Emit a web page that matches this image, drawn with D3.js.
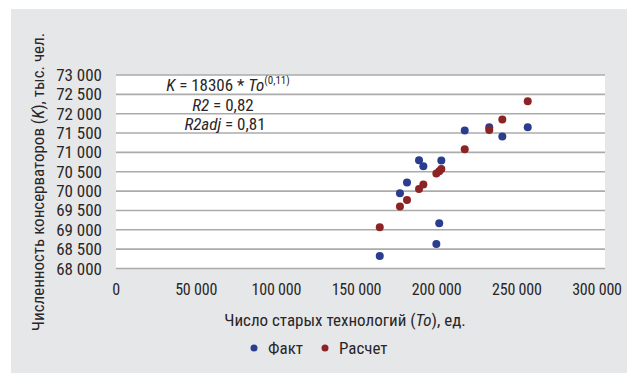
<!DOCTYPE html>
<html>
<head>
<meta charset="utf-8">
<script src="https://cdn.jsdelivr.net/npm/d3@7"></script>
<style>
  body { margin: 0; background: #fff; }
  svg text { font-family: "Liberation Sans Narrow", "Roboto Condensed", "Liberation Sans", sans-serif; fill: #2a2627; }
</style>
</head>
<body>
<div id="chart"></div>
<script>
// Data
const factX = [164500, 177100, 181500, 189000, 191700, 199800, 201600, 202900, 217500, 232800, 240950, 256800];
const factY = [68326, 69946, 70222, 70798, 70643, 68636, 69170, 70791, 71566, 71651, 71411, 71651];
const calcX = [164500, 177100, 181500, 189000, 191700, 199800, 201600, 202900, 217500, 232800, 240950, 256800];
const calcY = [69067, 69602, 69773, 70057, 70171, 70455, 70514, 70574, 71083, 71582, 71850, 72323];
const xTicks = [0, 50000, 100000, 150000, 200000, 250000, 300000];
const yTicks = [68000, 68500, 69000, 69500, 70000, 70500, 71000, 71500, 72000, 72500, 73000];
const seriesNames = ["Факт", "Расчет"];
const colors = ["#2b3d8f", "#8c2425"];

function createChart() {
    const width = 627;
    const height = 373;
    const plot = { left: 116, right: 605, top: 75, bottom: 268.5 };

    const svg = d3.select("#chart")
        .append("svg")
        .attr("width", width)
        .attr("height", height);

    // grey panel
    svg.append("rect")
        .attr("x", 11).attr("y", 9)
        .attr("width", width - 11).attr("height", height - 9)
        .attr("fill", "#e6e7e9");

    // 300 000 sits a little inside the white area's right edge
    const xScale = d3.scaleLinear().domain([0, 300000]).range([plot.left, 597]);
    const yScale = d3.scaleLinear().domain([68000, 73000]).range([plot.bottom, plot.top]);
    const fmt = d3.formatLocale({ decimal: ",", thousands: " ", grouping: [3], currency: ["", ""] }).format(",");

    svg.append("rect")
        .attr("x", plot.left).attr("y", plot.top)
        .attr("width", plot.right - plot.left).attr("height", plot.bottom - plot.top)
        .attr("fill", "#fff");

    // horizontal gridlines
    svg.selectAll(".grid")
        .data(yTicks)
        .enter()
        .append("line")
        .attr("x1", plot.left).attr("x2", plot.right)
        .attr("y1", d => yScale(d)).attr("y2", d => yScale(d))
        .attr("stroke", "#ababab")
        .attr("stroke-width", 1.6);

    // y tick labels
    svg.selectAll(".ylab")
        .data(yTicks)
        .enter()
        .append("text")
        .attr("x", 102)
        .attr("y", d => yScale(d) + 6)
        .attr("text-anchor", "end")
        .attr("font-size", 17)
        .text(d => fmt(d));

    // x tick labels
    svg.selectAll(".xlab")
        .data(xTicks)
        .enter()
        .append("text")
        .attr("x", d => xScale(d))
        .attr("y", 295)
        .attr("text-anchor", "middle")
        .attr("font-size", 16)
        .attr("letter-spacing", -0.2)
        .text(d => fmt(d));

    // axis titles
    const xt = svg.append("text")
        .attr("x", 345).attr("y", 326)
        .attr("text-anchor", "middle")
        .attr("font-size", 17);
    xt.append("tspan").text("Число старых технологий  (");
    xt.append("tspan").attr("font-style", "italic").text("To");
    xt.append("tspan").text("), ед.");

    const yt = svg.append("text")
        .attr("transform", "translate(44,182) rotate(-90)")
        .attr("text-anchor", "middle")
        .attr("font-size", 17);
    yt.append("tspan").text("Численность консерваторов  (");
    yt.append("tspan").attr("font-style", "italic").text("K");
    yt.append("tspan").text("), тыс. чел.");

    // points
    const series = [
        factX.map((x, i) => ({ x, y: factY[i] })),
        calcX.map((x, i) => ({ x, y: calcY[i] }))
    ];
    series.forEach((pts, s) => {
        svg.selectAll(".pt" + s)
            .data(pts)
            .enter()
            .append("circle")
            .attr("cx", d => xScale(d.x))
            .attr("cy", d => yScale(d.y))
            .attr("r", 4)
            .attr("fill", colors[s]);
    });

    // regression equation
    const eq = svg.append("g").attr("font-size", 17).attr("text-anchor", "middle");
    const l1 = eq.append("text").attr("x", 228).attr("y", 91);
    l1.append("tspan").attr("font-style", "italic").text("K");
    l1.append("tspan").text(" = 18306 * ");
    l1.append("tspan").attr("font-style", "italic").text("To");
    l1.append("tspan").attr("font-size", 11).attr("dy", -7).text("(0,11)");
    const l2 = eq.append("text").attr("x", 223).attr("y", 110.5);
    l2.append("tspan").attr("font-style", "italic").text("R2");
    l2.append("tspan").text(" = 0,82");
    const l3 = eq.append("text").attr("x", 225).attr("y", 130);
    l3.append("tspan").attr("font-style", "italic").text("R2adj");
    l3.append("tspan").text(" = 0,81");

    // legend
    const legendX = [254, 325];
    seriesNames.forEach((name, i) => {
        svg.append("circle")
            .attr("cx", legendX[i]).attr("cy", 348)
            .attr("r", 3.5)
            .attr("fill", colors[i]);
        svg.append("text")
            .attr("x", legendX[i] + 14).attr("y", 354)
            .attr("font-size", 17)
            .text(name);
    });
}

document.addEventListener("DOMContentLoaded", createChart);
</script>
</body>
</html>
